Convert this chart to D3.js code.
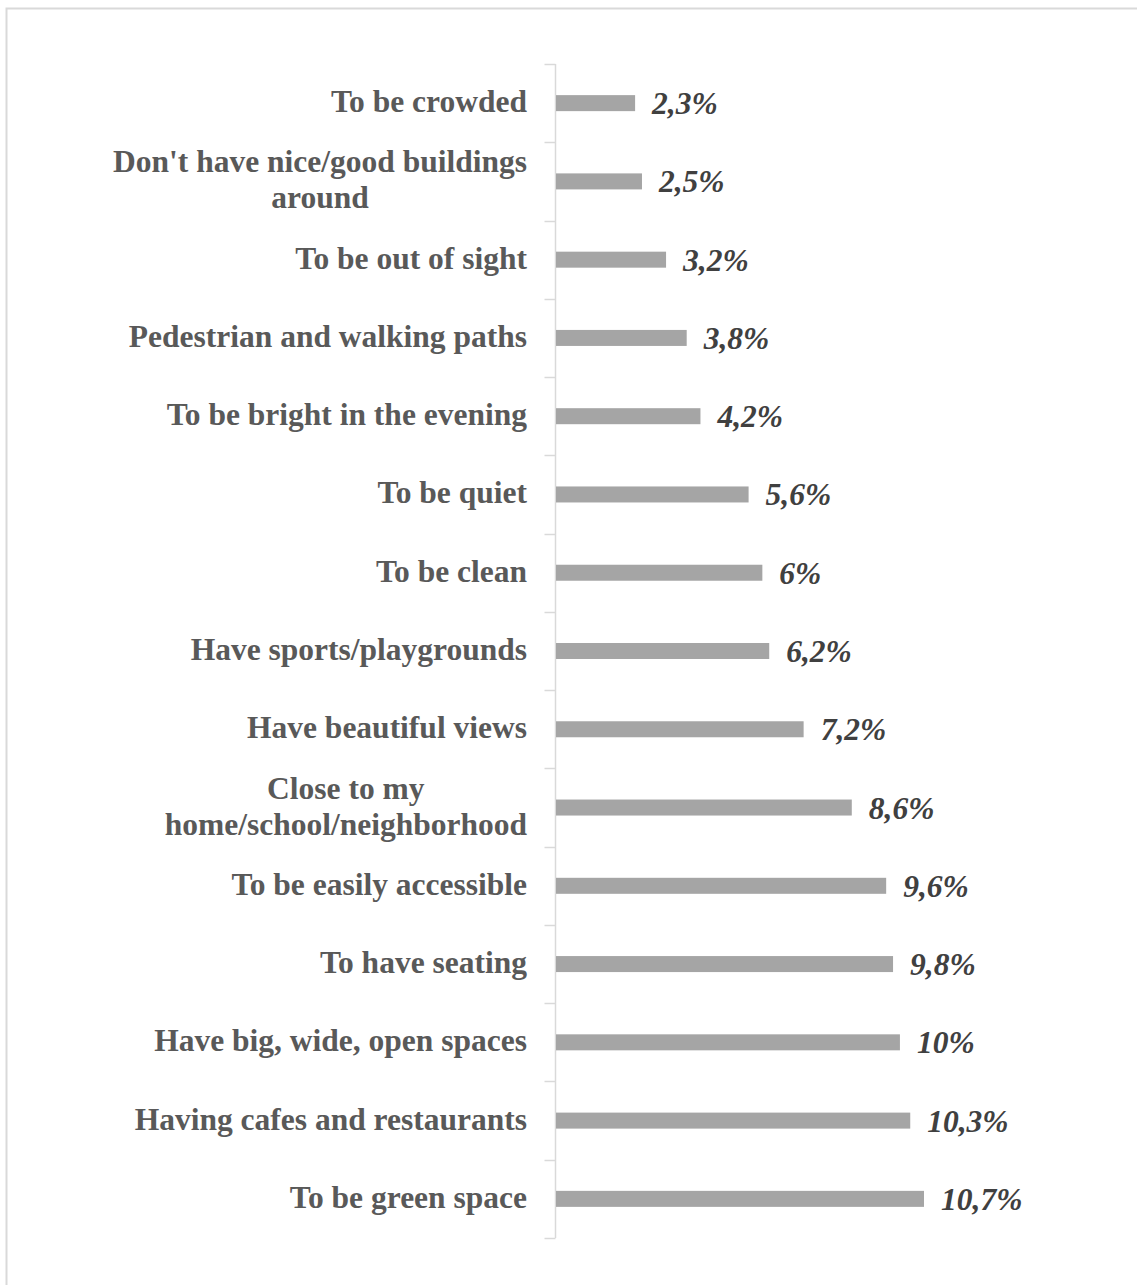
<!DOCTYPE html>
<html>
<head>
<meta charset="utf-8">
<script src="https://cdn.jsdelivr.net/npm/d3@7"></script>
<style>
  html, body { margin: 0; padding: 0; background: #fff; }
  svg { display: block; }
</style>
</head>
<body>
<svg id="chart" width="1137" height="1285"></svg>
<script>
// Reasons for choosing a public space (share of responses, %)
const categories = [
  "To be crowded",
  "Don't have nice/good buildings|around",
  "To be out of sight",
  "Pedestrian and walking paths",
  "To be bright in the evening",
  "To be quiet",
  "To be clean",
  "Have sports/playgrounds",
  "Have beautiful views",
  "Close to my|home/school/neighborhood",
  "To be easily accessible",
  "To have seating",
  "Have big, wide, open spaces",
  "Having cafes and restaurants",
  "To be green space"
];
const values = [2.3, 2.5, 3.2, 3.8, 4.2, 5.6, 6, 6.2, 7.2, 8.6, 9.6, 9.8, 10, 10.3, 10.7];
const valueLabels = ["2,3%", "2,5%", "3,2%", "3,8%", "4,2%", "5,6%", "6%", "6,2%", "7,2%", "8,6%", "9,6%", "9,8%", "10%", "10,3%", "10,7%"];

const svg = d3.select("#chart");
const font = "'Liberation Serif', 'Times New Roman', serif";
const fontSize = 31.5;

// outer frame (runs past the right and bottom edges)
svg.append("rect")
  .attr("x", 6.5).attr("y", 8.5)
  .attr("width", 1200).attr("height", 1300)
  .attr("fill", "none").attr("stroke", "#d9d9d9").attr("stroke-width", 2);

const axisX = 555.5;
const plotTop = 64, plotBottom = 1238;

const band = d3.scaleBand()
  .domain(d3.range(categories.length))
  .range([plotTop, plotBottom]);

const x = d3.scaleLinear().domain([0, 10.7]).range([axisX + 0.5, 924]);

// category axis line and tick marks between categories
const g = svg.append("g");
g.append("line")
  .attr("x1", axisX).attr("x2", axisX)
  .attr("y1", plotTop).attr("y2", plotBottom)
  .attr("stroke", "#d9d9d9").attr("stroke-width", 1.5);
const tickYs = d3.range(categories.length + 1).map(i => plotTop + i * band.step());
g.selectAll("line.tick").data(tickYs).join("line")
  .attr("class", "tick")
  .attr("x1", axisX - 11).attr("x2", axisX)
  .attr("y1", d => Math.round(d) + 0.5).attr("y2", d => Math.round(d) + 0.5)
  .attr("stroke", "#d9d9d9").attr("stroke-width", 1.5);

// bars
svg.selectAll("rect.bar").data(values).join("rect")
  .attr("class", "bar")
  .attr("x", x(0))
  .attr("y", (d, i) => band(i) + band.bandwidth() / 2 - 8)
  .attr("width", d => x(d) - x(0))
  .attr("height", 16)
  .attr("fill", "#a5a5a5");

// value labels
svg.selectAll("text.val").data(values).join("text")
  .attr("class", "val")
  .attr("x", d => x(d) + 17)
  .attr("y", (d, i) => band(i) + band.bandwidth() / 2 + 11)
  .attr("font-family", font)
  .attr("font-size", fontSize)
  .attr("font-weight", "bold")
  .attr("font-style", "italic")
  .attr("fill", "#404040")
  .text((d, i) => valueLabels[i]);

// category labels (wrapped lines centred on each other, right-aligned as a block)
const labelRight = 527;
categories.forEach((c, i) => {
  const lines = c.split("|");
  const cy = band(i) + band.bandwidth() / 2;
  const t = svg.append("text")
    .attr("font-family", font)
    .attr("font-size", fontSize)
    .attr("font-weight", "bold")
    .attr("fill", "#595959");
  const lh = 36;
  const spans = lines.map((ln, k) => t.append("tspan")
    .attr("y", cy + 9 + (k - (lines.length - 1) / 2) * lh)
    .text(ln));
  if (lines.length === 1) {
    t.attr("text-anchor", "end");
    spans[0].attr("x", labelRight);
  } else {
    const w = d3.max(spans, s => s.node().getComputedTextLength());
    t.attr("text-anchor", "middle");
    spans.forEach(s => s.attr("x", labelRight - w / 2));
  }
});
</script>
</body>
</html>
